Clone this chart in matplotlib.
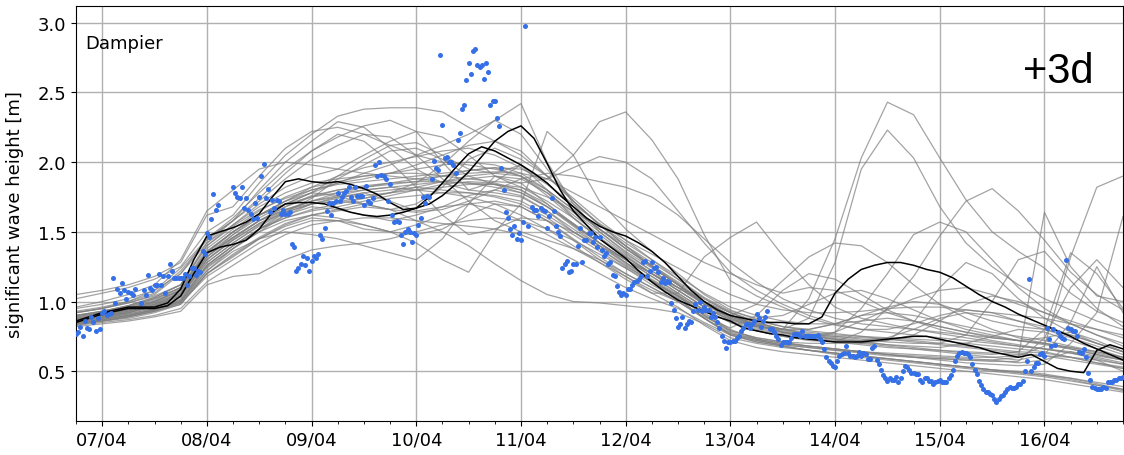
import datetime as dt
import matplotlib
matplotlib.use('Agg')
import matplotlib.pyplot as plt
import matplotlib.dates as mdates
from matplotlib.ticker import MultipleLocator

nan = float('nan')
base = dt.datetime(2023, 4, 6, 18)

# ---- ensemble members: 6-hourly from 06/04 18:00 to 16/04 18:00 (41 values) ----
m01 = [1.02,1.06,1.10,1.16,1.25, 1.50,1.62,1.85,2.05,2.20, 2.33,2.38,2.39,2.39,2.36, 2.25,2.15,2.05,1.90,1.72, 1.55,1.40,1.25,1.12,0.98, 0.88,0.82,0.78,0.76,0.75, 0.74,0.73,0.72,0.70,0.68, 0.66,0.64,0.63,0.60,0.56, 0.52]
m02 = [0.95,0.98,1.02,1.08,1.24, 1.45,1.58,1.80,2.00,2.15, 2.29,2.25,2.10,1.95,1.85, 1.80,1.78,1.75,1.65,1.50, 1.38,1.25,1.15,1.03,0.92, 0.80,0.73,0.68,0.65,0.62, 0.60,0.58,0.56,0.54,0.52, 0.50,0.48,0.46,0.43,0.40, 0.37]
m03 = [0.90,0.93,0.97,1.02,1.10, 1.35,1.50,1.62,1.70,1.78, 1.85,1.92,1.98,2.05,2.12, 2.20,2.30,2.42,2.00,1.70, 1.50,1.35,1.22,1.10,0.98, 0.90,0.84,0.80,0.78,0.76, 0.75,0.74,0.73,0.72,0.70, 0.68,0.66,0.64,0.60,0.56, 0.53]
m04 = [0.88,0.91,0.95,1.00,1.08, 1.32,1.48,1.62,1.72,1.80, 1.85,1.88,1.92,1.98,2.05, 2.12,2.15,2.08,1.90,1.72, 1.55,1.42,1.30,1.18,1.06, 0.96,0.90,0.86,0.84,0.84, 0.86,0.88,0.86,0.82,0.78, 0.74,0.72,0.74,0.78,0.72, 0.64]
m05 = [0.92,0.95,0.99,1.04,1.12, 1.40,1.55,1.68,1.78,1.85, 1.88,1.90,1.92,1.92,1.90, 1.88,1.86,1.85,1.88,2.05, 2.29,2.36,2.16,1.88,1.48, 1.15,1.04,0.96,0.88,0.83, 0.80,0.80,0.84,0.90,0.94, 0.92,0.86,0.80,0.74,0.68, 0.62]
m06 = [0.86,0.89,0.92,0.97,1.04, 1.28,1.42,1.55,1.65,1.72, 1.78,1.82,1.85,1.88,1.90, 1.92,1.93,1.92,1.88,1.96, 2.04,2.00,1.88,1.65,1.42, 1.21,1.08,0.98,0.90,0.84, 0.80,0.78,0.76,0.74,0.72, 0.70,0.68,0.66,0.64,0.61, 0.58]
m07 = [0.84,0.86,0.88,0.92,0.98, 1.20,1.32,1.45,1.55,1.62, 1.65,1.68,1.66,1.58,1.50, 1.40,1.27,1.15,1.05,1.00, 0.99,0.97,0.95,0.92,0.84, 0.74,0.70,0.67,0.65,0.63, 0.61,0.59,0.57,0.55,0.53, 0.51,0.49,0.47,0.45,0.42, 0.39]
m08 = [0.86,0.88,0.91,0.95,1.02, 1.25,1.38,1.50,1.58,1.62, 1.60,1.55,1.50,1.42,1.30, 1.21,1.50,1.70,2.22,2.05, 1.72,1.52,1.36,1.20,1.05, 0.94,0.87,0.82,0.79,0.77, 0.75,0.73,0.71,0.69,0.67, 0.65,0.63,0.61,0.58,0.55, 0.52]
m09 = [0.90,0.92,0.96,1.01,1.10, 1.38,1.52,1.65,1.75,1.82, 1.86,1.90,1.92,1.95,1.98, 2.00,1.98,1.92,1.80,1.66, 1.52,1.38,1.25,1.12,0.98, 0.88,0.82,0.80,1.02,1.45, 2.03,2.43,2.34,2.03,1.73, 1.50,1.36,1.24,1.06,0.93, 0.85]
m10 = [0.92,0.95,0.99,1.05,1.20, 1.42,1.55,1.70,1.82,1.90, 1.95,2.05,2.15,2.22,2.18, 2.05,1.90,1.82,1.72,1.60, 1.45,1.32,1.20,1.08,0.96, 0.87,0.82,0.80,0.88,1.28, 1.95,2.23,2.03,1.68,1.42, 1.25,1.12,1.02,0.94,0.86, 0.80]
m11 = [0.87,0.90,0.93,0.98,1.05, 1.30,1.45,1.58,1.68,1.75, 1.80,1.83,1.85,1.86,1.86, 1.85,1.82,1.78,1.68,1.55, 1.42,1.30,1.18,1.06,0.94, 0.85,0.79,0.75,0.72,0.71, 0.78,0.95,1.18,1.47,1.72, 1.81,1.65,1.44,1.21,1.05, 0.94]
m12 = [0.85,0.88,0.91,0.95,1.01, 1.22,1.38,1.50,1.62,1.70, 1.75,1.78,1.72,1.65,1.68, 1.76,1.80,1.76,1.65,1.52, 1.40,1.28,1.16,1.05,0.91, 0.79,0.74,0.71,0.68,0.66, 0.64,0.62,0.60,0.59,0.58, 0.58,0.60,1.64,1.25,1.04, 1.00]
m13 = [0.83,0.86,0.89,0.93,0.99, 1.18,1.30,1.42,1.52,1.58, 1.58,1.52,1.50,1.55,1.62, 1.70,1.72,1.68,1.58,1.45, 1.32,1.20,1.10,1.00,0.88, 0.76,0.72,0.69,0.67,0.65, 0.64,0.63,0.62,0.61,0.60, 0.60,0.61,0.68,1.32,1.82, 1.90]
m14 = [0.86,0.89,0.92,0.96,1.03, 1.26,1.40,1.52,1.62,1.68, 1.66,1.62,1.58,1.62,1.68, 1.70,1.66,1.58,1.48,1.38, 1.28,1.18,1.08,1.00,0.88, 0.77,0.73,0.70,0.68,0.66, 0.64,0.62,0.60,0.58,0.56, 0.55,0.54,0.55,0.70,0.92, 1.61]
m15 = [0.89,0.92,0.95,1.00,1.08, 1.35,1.50,1.62,1.70,1.75, 1.78,1.80,1.82,1.80,1.78, 1.75,1.70,1.62,1.52,1.40, 1.28,1.16,1.06,1.06,1.32, 1.46,1.57,1.33,1.12,0.96, 0.88,0.84,0.80,0.77,0.74, 0.71,0.68,0.66,0.63,0.60, 0.56]
m16 = [0.84,0.87,0.90,0.94,1.00, 1.20,1.34,1.46,1.56,1.62, 1.66,1.70,1.74,1.76,1.78, 1.78,1.76,1.72,1.62,1.50, 1.38,1.26,1.14,1.04,0.94, 0.90,0.98,1.15,1.32,1.42, 1.40,1.28,1.12,0.98,0.88, 0.80,0.74,0.70,0.66,0.62, 0.58]
m17 = [0.86,0.89,0.93,0.98,1.06, 1.32,1.46,1.58,1.66,1.72, 1.75,1.76,1.78,1.80,1.82, 1.84,1.84,1.80,1.70,1.56, 1.42,1.30,1.18,1.06,0.94, 0.85,0.79,0.75,0.73,0.78, 0.95,1.20,1.48,1.57,1.50, 1.30,1.10,0.95,0.84,0.76, 0.70]
m18 = [0.85,0.87,0.90,0.94,1.00, 1.24,1.38,1.52,1.64,1.74, 1.88,1.98,2.08,2.10,2.02, 1.90,1.84,1.78,1.68,1.56, 1.42,1.28,1.15,1.04,0.90, 0.79,0.74,0.71,0.70,0.70, 0.70,0.72,0.85,1.10,1.28, 1.20,1.02,0.88,0.78,0.70, 0.64]
m19 = [0.88,0.91,0.95,1.00,1.09, 1.36,1.50,1.62,1.72,1.78, 1.76,1.70,1.66,1.70,1.82, 2.02,2.10,2.02,1.90,1.74, 1.58,1.44,1.30,1.16,1.02, 0.92,0.85,0.80,0.77,0.75, 0.73,0.71,0.70,0.70,0.76, 1.00,1.30,1.36,1.15,0.95, 0.82]
m20 = [0.83,0.85,0.87,0.90,0.95, 1.14,1.26,1.38,1.48,1.55, 1.58,1.60,1.60,1.58,1.56, 1.54,1.52,1.48,1.40,1.30, 1.20,1.10,1.02,0.95,0.85, 0.76,0.71,0.68,0.65,0.63, 0.61,0.59,0.57,0.55,0.53, 0.51,0.49,0.47,0.44,0.40, 0.36]
m21 = [0.82,0.84,0.86,0.89,0.93, 1.12,1.18,1.20,1.30,1.37, 1.40,1.42,1.45,1.50,1.55, 1.58,1.60,1.58,1.52,1.44, 1.34,1.24,1.14,1.02,0.88, 0.76,0.71,0.68,0.65,0.63, 0.61,0.59,0.57,0.55,0.53, 0.51,0.50,0.48,0.45,0.41, 0.37]
m22 = [1.05,1.08,1.12,1.18,1.28, 1.62,1.68,1.90,2.10,2.22, 2.25,2.20,2.12,2.05,2.00, 1.98,1.95,1.90,1.78,1.62, 1.48,1.34,1.22,1.10,0.98, 0.89,0.83,0.79,0.76,0.74, 0.72,0.72,0.76,0.86,0.98, 1.04,1.00,0.92,0.84,0.76, 0.68]
m23 = [0.87,0.90,0.94,0.99,1.07, 1.34,1.48,1.60,1.70,1.78, 1.90,2.02,2.12,2.14,2.05, 1.95,1.92,1.98,1.85,1.68, 1.52,1.38,1.25,1.12,0.99, 0.89,0.83,0.78,0.75,0.73, 0.71,0.69,0.68,0.67,0.70, 0.75,0.80,0.78,0.72,0.66, 0.60]
m24 = [0.85,0.87,0.90,0.94,1.00, 1.26,1.40,1.52,1.60,1.65, 1.68,1.72,1.76,1.80,1.84, 1.86,1.85,1.80,1.68,1.54, 1.40,1.27,1.15,1.04,0.90, 0.78,0.73,0.70,0.68,0.66, 0.64,0.62,0.61,0.60,0.59, 0.58,0.56,0.58,0.64,0.58, 0.50]
m25 = [0.86,0.88,0.92,0.97,1.04, 1.30,1.44,1.56,1.66,1.72, 1.76,1.80,1.82,1.84,1.86, 1.88,1.90,1.88,1.78,1.64, 1.50,1.36,1.24,1.12,1.00, 0.90,0.83,0.78,0.75,0.73, 0.71,0.69,0.67,0.65,0.63, 0.62,0.64,0.80,1.35,1.20, 0.95]
m26 = [0.93,0.96,1.00,1.06,1.22, 1.44,1.58,1.72,1.88,2.02, 2.12,2.20,2.18,2.05,1.88, 1.72,1.58,1.50,1.44,1.38, 1.30,1.20,1.10,1.00,0.89, 0.81,0.90,1.08,1.20,1.16, 1.05,0.94,0.86,0.80,0.76, 0.72,0.69,0.66,0.63,0.59, 0.55]
m27 = [0.88,0.91,0.94,0.99,1.06, 1.30,1.44,1.56,1.64,1.70, 1.72,1.74,1.78,1.85,1.98, 2.15,2.30,2.20,1.95,1.72, 1.55,1.40,1.26,1.13,1.00, 0.90,0.84,0.80,0.80,0.84, 0.90,0.96,1.00,0.98,0.92, 0.86,0.82,0.80,0.76,0.70, 0.64]
m28 = [0.84,0.86,0.89,0.93,0.98, 1.20,1.33,1.45,1.54,1.60, 1.58,1.55,1.50,1.48,1.52, 1.62,1.70,1.68,1.58,1.44, 1.30,1.18,1.06,0.96,0.83, 0.72,0.67,0.64,0.62,0.60, 0.58,0.56,0.54,0.52,0.50, 0.48,0.46,0.44,0.41,0.38, 0.35]
m29 = [0.90,0.93,0.97,1.03,1.12, 1.40,1.54,1.66,1.74,1.80, 1.84,1.86,1.88,1.90,1.92, 1.94,1.96,1.95,1.88,1.78, 1.68,1.58,1.48,1.38,1.28, 1.20,1.12,1.06,1.10,1.08, 1.00,0.92,0.86,0.82,0.78, 0.75,0.72,0.70,0.67,0.64, 0.60]
m30 = [0.86,0.89,0.92,0.97,1.04, 1.28,1.42,1.54,1.64,1.70, 1.74,1.78,1.80,1.82,1.80, 1.78,1.75,1.70,1.60,1.48, 1.36,1.24,1.12,1.02,0.88, 0.77,0.72,0.69,0.67,0.65, 0.63,0.61,0.60,0.59,0.58, 0.57,0.57,0.74,1.10,1.30, 1.10]
m31 = [0.87,0.90,0.93,0.98,1.05, 1.32,1.46,1.58,1.68,1.76, 1.80,1.82,1.84,1.86,1.90, 1.94,1.96,1.90,1.76,1.60, 1.46,1.33,1.20,1.08,0.96, 0.87,0.81,0.77,0.75,0.78, 0.86,0.94,1.02,1.08,1.10, 1.05,0.98,0.92,0.86,0.80, 0.74]
m32 = [0.96,1.00,1.05,1.12,1.30, 1.65,1.80,1.95,2.00,1.98, 1.95,1.92,1.90,1.88,1.86, 1.85,1.84,1.82,1.75,1.65, 1.52,1.40,1.28,1.16,1.03, 0.93,0.88,0.90,0.98,1.06, 1.08,1.02,0.94,0.86,0.80, 0.76,0.72,0.69,0.66,0.62, 0.58]
m33 = [0.92,0.95,1.00,1.08,1.20, 1.45,1.60,1.78,1.95,2.08, 2.18,2.26,2.30,2.22,2.00, 1.80,1.86,1.98,1.80,1.60, 1.45,1.32,1.20,1.08,0.96, 0.86,0.80,0.76,0.74,0.72, 0.72,0.74,0.80,0.88,0.92, 0.90,0.86,0.82,0.76,0.70, 0.64]
m34 = [0.84,0.86,0.89,0.93,0.99, 1.22,1.36,1.45,1.50,1.48, 1.45,1.40,1.35,1.30,1.45, 1.70,1.90,1.85,1.70,1.55, 1.42,1.30,1.20,1.10,1.00, 0.92,0.86,0.82,0.80,0.84, 0.90,0.92,0.90,0.86,0.82, 0.78,0.75,0.72,0.68,0.64, 0.60]
m35 = [0.87,0.90,0.94,1.00,1.08, 1.34,1.46,1.58,1.66,1.70, 1.72,1.70,1.66,1.64,1.66, 1.72,1.80,1.88,1.92,1.90, 1.86,1.82,1.75,1.62,1.45, 1.28,1.14,1.02,0.94,0.88, 0.84,0.82,0.80,0.78,0.76, 0.74,0.72,0.70,0.67,0.63, 0.59]
m36 = [0.89,0.92,0.96,1.02,1.10, 1.36,1.50,1.62,1.72,1.82, 1.90,1.96,2.00,2.04,2.08, 2.10,2.05,1.96,1.84,1.70, 1.56,1.44,1.34,1.24,1.14, 1.05,0.98,0.94,0.92,0.92, 0.93,0.95,0.96,0.96,0.94, 0.92,0.90,0.88,0.84,0.80, 0.76]
m37 = [0.90,0.93,0.97,1.03,1.12, 1.42,1.58,1.74,1.92,2.08, 2.20,2.15,2.00,1.82,1.62, 1.48,1.52,1.60,1.58,1.50, 1.40,1.30,1.20,1.10,1.00, 0.90,0.83,0.78,0.74,0.71, 0.69,0.67,0.66,0.65,0.64, 0.63,0.62,0.61,0.60,0.58, 0.55]
m38 = [0.85,0.87,0.90,0.94,1.01, 1.26,1.40,1.52,1.60,1.66, 1.70,1.74,1.78,1.82,1.86, 1.90,1.92,1.90,1.80,1.66, 1.52,1.38,1.26,1.14,1.02, 0.92,0.85,0.80,0.76,0.73, 0.70,0.68,0.66,0.64,0.62, 0.60,0.58,0.62,0.85,1.25, 0.92]

members = [m01, m02, m03, m04, m05, m06, m07, m08, m09, m10, m11, m12, m13,
           m14, m15, m16, m17, m18, m19, m20, m21, m22, m23, m24, m25, m26,
           m27, m28, m29, m30, m31, m32, m33, m34, m35, m36, m37, m38]

# ---- two highlighted runs: 3-hourly from 06/04 18:00 to 16/04 18:00 (81 values) ----
black_a = [0.85,0.88, 0.91,0.93,0.95,0.95,0.95,0.97,1.04,1.20,
           1.35,1.39,1.41,1.44,1.52,1.64,1.70,1.71,
           1.71,1.70,1.67,1.64,1.62,1.61,1.62,1.64,
           1.67,1.75,1.85,1.96,2.06,2.11,2.08,2.03,
           1.98,1.92,1.85,1.76,1.68,1.60,1.54,1.50,
           1.47,1.42,1.36,1.28,1.18,1.08,1.00,0.94,
           0.90,0.88,0.86,0.85,0.85,0.84,0.84,0.89,
           1.06,1.16,1.23,1.26,1.28,1.28,1.26,1.23,
           1.21,1.17,1.11,1.05,1.00,0.96,0.91,0.87,
           0.83,0.79,0.75,0.70,0.66,0.62,0.58]
black_b = [0.86,0.89, 0.92,0.94,0.96,0.96,0.96,0.99,1.09,1.30,
           1.47,1.50,1.53,1.57,1.63,1.75,1.86,1.88,
           1.86,1.85,1.86,1.84,1.81,1.77,1.71,1.66,
           1.67,1.70,1.76,1.84,1.93,2.04,2.15,2.22,
           2.26,2.17,1.99,1.80,1.65,1.55,1.45,1.38,
           1.31,1.22,1.14,1.07,1.01,0.97,0.93,0.89,
           0.86,0.81,0.79,0.77,0.76,0.74,0.73,0.72,
           0.71,0.71,0.71,0.72,0.73,0.74,0.75,0.75,
           0.73,0.71,0.69,0.67,0.64,0.62,0.60,0.62,
           0.57,0.52,0.50,0.49,0.65,0.69,0.66]

# ---- observations: every 30 min from 06/04 18:00 ----
obs_06 = [0.77,0.78,0.82,0.75,0.86,0.81,0.80,0.89,0.85,0.79,0.88,0.80]
obs_07 = [0.92,0.93,0.90,0.91,0.92,1.17,0.99,1.09,1.06,1.13,1.08,1.02,
          1.07,1.06,1.05,1.09,nan,nan,0.99,1.08,1.05,1.19,1.10,1.08,
          1.12,1.12,1.20,1.12,1.18,1.06,1.18,1.27,1.22,1.17,1.17,1.17,
          1.17,1.17,1.20,1.12,1.18,1.24,1.24,1.19,1.22,1.21,1.36,1.34]
obs_08 = [1.49,1.46,1.59,1.77,1.66,1.69,nan,nan,nan,nan,nan,nan,
          1.82,1.78,1.75,1.74,1.82,1.67,1.74,1.66,1.63,1.59,1.71,1.60,
          1.75,1.90,1.99,1.74,1.81,1.64,1.73,1.67,1.73,1.72,1.63,1.66,
          1.63,1.63,1.64,1.41,1.39,1.22,1.24,1.27,1.33,1.26,1.31,1.22]
obs_09 = [1.29,1.33,1.31,1.34,1.48,1.45,1.53,1.65,1.71,1.62,1.71,1.72,
          1.78,1.72,1.75,1.78,1.79,1.82,1.75,1.72,1.82,1.76,1.76,1.76,
          1.69,1.83,1.72,1.71,1.74,1.98,1.90,2.00,1.91,1.90,1.88,1.72,
          1.84,1.62,1.57,1.58,1.57,1.48,1.41,1.50,1.52,1.50,1.43,1.49]
obs_10 = [1.48,1.55,1.60,1.75,1.71,1.76,1.75,1.88,2.01,1.96,1.94,2.77,
          2.27,2.03,2.04,2.00,2.00,1.98,1.92,2.16,2.21,2.38,2.41,2.59,
          2.71,2.63,2.80,2.81,2.70,2.68,2.70,2.60,2.71,2.65,2.41,2.44,
          2.44,2.32,2.26,1.96,1.80,1.64,1.60,1.52,1.48,1.54,1.45,1.49]
obs_11 = [1.44,1.57,2.98,1.54,nan,1.68,1.66,1.66,1.61,1.67,1.66,1.65,
          1.53,1.61,1.74,1.65,1.54,1.50,1.47,1.24,1.27,1.29,1.21,1.22,
          1.27,1.27,1.40,1.53,1.28,1.44,1.44,1.49,1.49,1.43,1.46,1.39,
          1.46,1.37,1.33,1.35,1.27,1.28,1.19,1.18,1.11,1.07,1.05,1.06]
obs_12 = [1.05,1.09,1.09,1.12,1.14,1.15,1.16,1.18,1.28,1.29,1.18,1.22,
          1.28,1.24,1.25,1.21,1.14,1.17,1.13,1.15,1.14,0.99,0.94,0.88,
          0.82,0.84,0.89,0.81,0.84,0.86,0.85,0.93,0.98,0.94,1.00,0.93,
          0.96,0.94,0.94,0.89,0.92,0.89,0.85,0.81,0.75,0.72,0.67,0.71]
obs_13 = [0.71,0.72,0.72,0.74,0.75,0.79,0.81,0.84,0.84,0.81,0.84,0.86,
          0.91,0.88,0.82,0.86,0.89,0.93,0.80,0.80,0.78,0.75,0.73,0.69,
          0.71,0.71,0.71,0.71,0.74,0.77,0.77,0.77,0.75,0.79,0.75,0.75,
          0.75,0.75,0.75,0.75,0.76,0.73,0.71,0.66,0.60,0.57,0.56,0.54]
obs_14 = [0.53,0.57,0.61,0.62,0.63,0.68,0.63,0.61,0.61,0.60,0.61,0.64,
          0.61,0.63,0.62,0.59,0.59,0.67,0.68,0.58,0.55,0.51,0.47,0.45,
          0.43,0.45,0.44,0.44,0.46,0.42,0.45,0.50,0.54,0.53,0.51,0.49,
          0.49,0.48,0.48,0.44,0.42,0.45,0.45,0.43,0.43,0.41,0.42,0.43]
obs_15 = [0.44,0.42,0.42,0.42,0.45,0.47,0.51,0.57,0.61,0.63,0.64,0.63,
          0.63,0.62,0.60,0.55,0.51,0.48,0.43,0.40,0.37,0.35,0.35,0.34,
          0.33,0.30,0.28,0.30,0.32,0.33,0.35,0.37,0.39,0.38,0.38,0.39,
          0.41,0.41,0.43,0.50,0.57,1.16,0.50,0.53,0.56,0.56,0.62,0.63]
obs_16 = [0.61,0.81,0.73,0.68,0.80,0.69,0.78,0.75,0.74,0.73,1.30,0.81,
          0.80,0.79,0.79,0.75,0.64,0.63,0.66,0.60,0.49,0.44,0.39,0.38,
          0.37,0.37,0.37,0.39,0.38,0.42,0.42,0.42,0.44,0.44,0.45,0.45,
          0.46]

station = 'Dampier'
lead = '+3d'
ylabel = 'significant wave height [m]'

obs = obs_06 + obs_07 + obs_08 + obs_09 + obs_10 + obs_11 + obs_12 + obs_13 + obs_14 + obs_15 + obs_16
t_obs = [base + dt.timedelta(minutes=30 * i) for i in range(len(obs))]
t6 = [base + dt.timedelta(hours=6 * i) for i in range(len(m01))]
t3 = [base + dt.timedelta(hours=3 * i) for i in range(len(black_a))]

W, H = 1124, 456
fig = plt.figure(figsize=(W / 100, H / 100), dpi=100)
ax = fig.add_axes([76 / W, 1 - 421.7 / H, 1047 / W, 414.4 / H])

for m in members:
    ax.plot(t6, m, color='#808080', alpha=0.72, lw=0.9, zorder=2)
ax.plot(t3, black_a, color='black', lw=1.1, zorder=3)
ax.plot(t3, black_b, color='black', lw=1.1, zorder=3)
ax.scatter(t_obs, obs, s=13, color='#3570e6', linewidths=0, zorder=4)

ax.set_xlim(base, base + dt.timedelta(days=10))
ax.set_ylim(0.145, 3.118)
ax.xaxis.set_major_locator(mdates.DayLocator())
ax.xaxis.set_major_formatter(mdates.DateFormatter('%d/%m'))
ax.xaxis.set_minor_locator(mdates.HourLocator(byhour=[6, 12, 18]))
ax.yaxis.set_major_locator(MultipleLocator(0.5))
ax.grid(True, which='major', color='#b0b0b0', lw=1.0, zorder=1)
ax.tick_params(labelsize=13)
ax.set_ylabel(ylabel, fontsize=13)
ax.yaxis.set_label_coords(-0.0497, 0.5)
ax.text(0.009, 0.899, station, transform=ax.transAxes, fontsize=13, va='baseline')
ax.text(0.972, 0.817, lead, transform=ax.transAxes, fontsize=30,
        family='Liberation Sans', ha='right', va='baseline')

fig.savefig('out.png', dpi=100)
